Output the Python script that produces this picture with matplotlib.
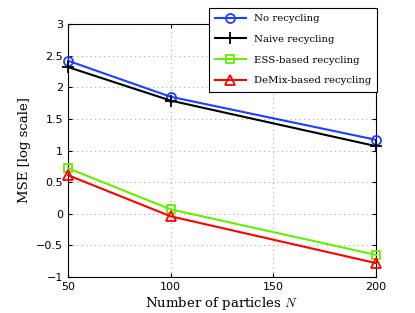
import matplotlib
matplotlib.use('Agg')
import matplotlib.pyplot as plt

# データ
n_particles = [50, 100, 200]
mse_no = [2.42, 1.85, 1.17]
mse_naive = [2.32, 1.79, 1.07]
mse_ess = [0.72, 0.07, -0.65]
mse_demix = [0.61, -0.04, -0.78]
labels = ['No recycling', 'Naive recycling', 'ESS-based recycling', 'DeMix-based recycling']

plt.rcParams['mathtext.fontset'] = 'cm'

fig = plt.figure(figsize=(4.15, 3.13), dpi=100)
ax = fig.add_axes([0.164, 0.115, 0.742, 0.808])

ax.plot(n_particles, mse_no, color='#1f3fff', marker='o', markersize=6.5,
        markerfacecolor='none', markeredgewidth=1.3, linewidth=1.5,
        label=labels[0], clip_on=False, zorder=3)
ax.plot(n_particles, mse_naive, color='black', marker='+', markersize=8,
        markeredgewidth=1.3, linewidth=1.5, label=labels[1], clip_on=False, zorder=3)
ax.plot(n_particles, mse_ess, color='#66ee00', marker='s', markersize=5.5,
        markerfacecolor='none', markeredgewidth=1.3, linewidth=1.5,
        label=labels[2], clip_on=False, zorder=3)
ax.plot(n_particles, mse_demix, color='#ff0000', marker='^', markersize=7.5,
        markerfacecolor='none', markeredgewidth=1.3, linewidth=1.5,
        label=labels[3], clip_on=False, zorder=3)

ax.set_xlim(50, 200)
ax.set_ylim(-1, 3)
ax.set_xticks([50, 100, 150, 200])
ax.set_yticks([-1, -0.5, 0, 0.5, 1, 1.5, 2, 2.5, 3])
ax.set_yticklabels(['\u22121', '\u22120.5', '0', '0.5', '1', '1.5', '2', '2.5', '3'])
ax.tick_params(direction='in', labelsize=8, length=3, top=True, right=True)
ax.grid(True, linestyle=(0, (1, 3)), color='#aaaaaa', linewidth=0.8)

ax.set_xlabel('Number of particles $N$', family='serif', fontsize=9.5, labelpad=2)
ax.set_ylabel('MSE [log scale]', family='serif', fontsize=9.5, labelpad=4)

leg = ax.legend(loc='upper left', prop={'family': 'serif', 'size': 7.3},
                fancybox=False, framealpha=1, edgecolor='black', handlelength=3,
                borderaxespad=0, labelspacing=1.15, borderpad=0.6)
leg.get_frame().set_linewidth(0.8)
leg.set_zorder(5)
# 凡例の位置を図座標で指定
leg.set_bbox_to_anchor((209 / 415, 1 - 8 / 313), transform=fig.transFigure)

fig.savefig('out.png', dpi=100)
